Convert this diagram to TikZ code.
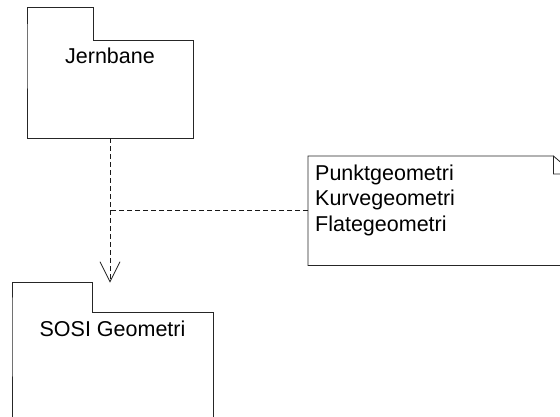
\documentclass[tikz,border=0pt]{standalone}
\usepackage{fontspec}
\setmainfont{Liberation Sans}
\usetikzlibrary{arrows.meta}
\begin{document}
\begin{tikzpicture}[x=1pt,y=1pt,
  outline/.style={draw=black!85, line width=0.8pt},
  box/.style={inner sep=0pt, anchor=north west},
  label/.style={font=\fontsize{21.5}{25.5}\selectfont, inner sep=0pt, text=black},
  depline/.style={draw=black!90, line width=0.8pt, dash pattern=on 5pt off 3pt},
  openhead/.style={-{Straight Barb[length=20pt,width=20pt,line width=0.8pt]}},
  pkgoutline/.style 2 args={insert path={
    (#1.north west) -- (#2.north west) -- (#2.north east) -- (#2.south east)
    -- (#1.north east) -- (#1.south east) -- (#1.south west) -- cycle}}
]
\useasboundingbox (0,0) rectangle (560,416);
\clip (0,0) rectangle (560,416);

% package Jernbane
\node[box, minimum width=166pt, minimum height=98pt] (jb) at (27,376) {};
\node[box, anchor=south west, minimum width=66pt, minimum height=32pt] (jbtab) at (jb.north west) {};
\draw[outline, pkgoutline={jb}{jbtab}];
\node[label, anchor=base] (jbtext) at (110,352) {Jernbane};

% package SOSI Geometri
\node[box, minimum width=201pt, minimum height=130pt] (sosi) at (12,104) {};
\node[box, anchor=south west, minimum width=80pt, minimum height=29pt] (sositab) at (sosi.north west) {};
\draw[outline, pkgoutline={sosi}{sositab}];
\node[label, anchor=base] (sositext) at (112.5,80) {SOSI Geometri};

% note with folded corner
\node[inner sep=0pt, anchor=north west, minimum width=266pt, minimum height=109pt] (note) at (308,260) {};
\coordinate (foldA) at ([xshift=-21pt]note.north east);
\coordinate (foldB) at ([yshift=-18pt]note.north east);
\draw[outline] (foldA) -- (note.north west) -- (note.south west) -- (note.south east) -- (foldB) -- (foldA) -- (foldA |- foldB) -- (foldB);
\node[label, anchor=base west] (n1) at (315,236) {Punktgeometri};
\node[label, anchor=base west] (n2) at (315,210.5) {Kurvegeometri};
\node[label, anchor=base west] (n3) at (315,185) {Flategeometri};

% dependency and note attachment
\coordinate (tipend) at (110,0 |- sositab.north);
\draw[depline, openhead] (110,0 |- jb.south) -- (tipend);
\draw[depline] (note.west) -- (note.west -| tipend);
\end{tikzpicture}
\end{document}
